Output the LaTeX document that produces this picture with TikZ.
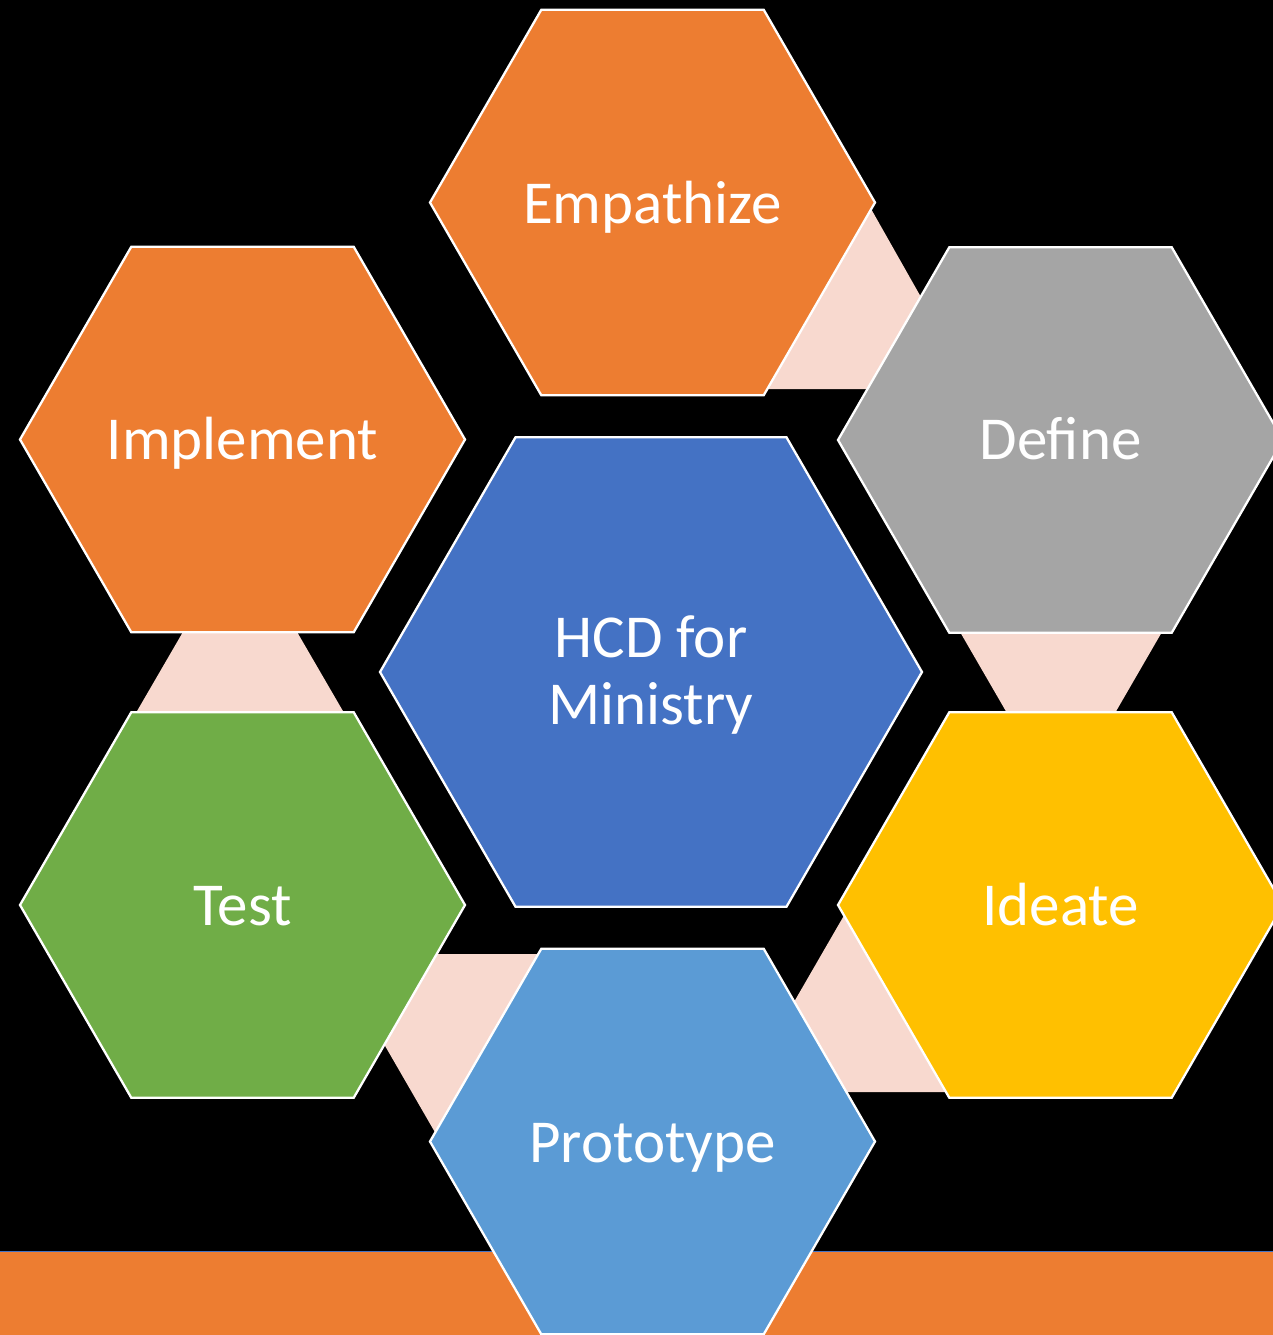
\documentclass[tikz,border=0pt]{standalone}
\usepackage{fontspec}
\setmainfont{Carlito}
\definecolor{hexorange}{HTML}{ED7D31}
\definecolor{hexgray}{HTML}{A5A5A5}
\definecolor{hexgold}{HTML}{FFC000}
\definecolor{hexblue}{HTML}{4472C4}
\definecolor{hexlightblue}{HTML}{5B9BD5}
\definecolor{hexgreen}{HTML}{70AD47}
\definecolor{linkpink}{HTML}{F8D9CF}
\newcommand{\hcdhex}[4]{%
  \filldraw[hexline,fill=#4]
    ({#1+#3},{#2}) -- ({#1+0.5*#3},{#2+0.866*#3}) -- ({#1-0.5*#3},{#2+0.866*#3})
    -- ({#1-#3},{#2}) -- ({#1-0.5*#3},{#2-0.866*#3}) -- ({#1+0.5*#3},{#2-0.866*#3}) -- cycle;}
\begin{document}
\begin{tikzpicture}[x=1pt,y=-1pt,
  hexline/.style={draw=white,line width=2.3pt,line join=miter},
  linkshape/.style={fill=linkpink},
  hexlabel/.style={text=white,inner sep=0pt,font=\fontsize{61}{67}\selectfont,align=center}]
\fill[black] (0,0) rectangle (1273,1335);
\useasboundingbox (0,0) rectangle (1273,1335);
\clip (0,0) rectangle (1273,1335);
% bottom band
\fill[hexorange] (0,1252) rectangle (1273,1335);
\draw[hexblue,line width=1.5pt] (0,1251.5) -- (1273,1251.5);
% pink links between neighbouring steps
\fill[linkshape] (866,200) -- (973,389) -- (760,389) -- cycle;
\fill[linkshape] (956,625) -- (1166,625) -- (1111,720) -- (1011,720) -- cycle;
\fill[linkshape] (846,912) -- (950,1092) -- (742,1092) -- cycle;
\fill[linkshape] (332,954) -- (548,954) -- (440,1141) -- cycle;
\fill[linkshape] (187,625) -- (293,625) -- (347,718) -- (133,718) -- cycle;
% hexagons
\hcdhex{652.5}{202.5}{222.5}{hexorange}
\hcdhex{242.5}{439.5}{222.5}{hexorange}
\hcdhex{1060.5}{440}{222.5}{hexgray}
\hcdhex{242.5}{905}{222.5}{hexgreen}
\hcdhex{1060.5}{905}{222.5}{hexgold}
\hcdhex{652.5}{1141.5}{222.5}{hexlightblue}
\hcdhex{651}{672}{271}{hexblue}
% labels
\node[hexlabel,anchor=base] (empathize) at (652.5,223) {Empathize};
\node[hexlabel,anchor=base] (implement) at (242.5,459) {Implement};
\node[hexlabel,anchor=base] (define) at (1060.5,459) {Define};
\node[hexlabel,anchor=base] (test) at (242.5,925) {Test};
\node[hexlabel,anchor=base] (ideate) at (1060.5,925) {Ideate};
\node[hexlabel,anchor=base] (prototype) at (652.5,1162) {Prototype};
\node[hexlabel] (hcd) at (651,675) {HCD for\\Ministry};
\end{tikzpicture}
\end{document}
